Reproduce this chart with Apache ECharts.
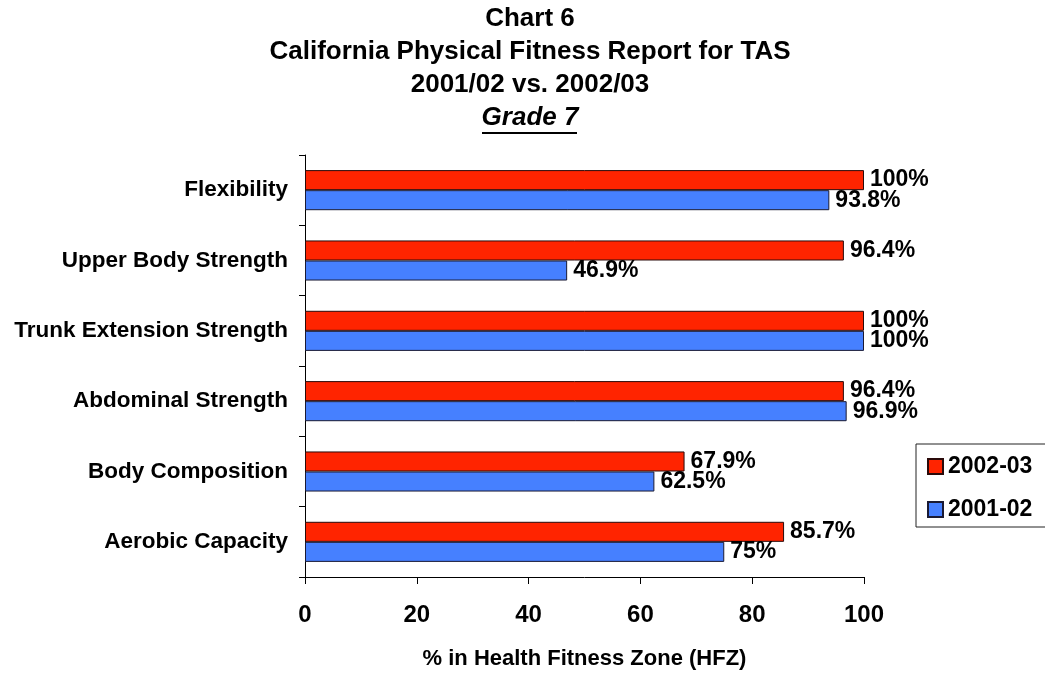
<!DOCTYPE html>
<html>
<head>
<meta charset="utf-8">
<script src="https://cdn.jsdelivr.net/npm/echarts@6/dist/echarts.min.js"></script>
<style>
  html, body { margin: 0; padding: 0; background: #fff; }
  #chart { width: 1045px; height: 673px; }
</style>
</head>
<body>
<div id="chart"></div>
<script>
// bottom to top, as the category axis draws them
const categories = [
  'Aerobic Capacity',
  'Body Composition',
  'Abdominal Strength',
  'Trunk Extension Strength',
  'Upper Body Strength',
  'Flexibility',
]
const values0203 = [85.7, 67.9, 96.4, 100, 96.4, 100]
const values0102 = [75, 62.5, 96.9, 100, 46.9, 93.8]
const xTicks = [0, 20, 40, 60, 80, 100]

const font = '"Liberation Sans", Arial, sans-serif'
const chart = echarts.init(document.getElementById('chart'))

const labelStyle = {
  show: true,
  position: 'right',
  distance: 6,
  color: '#000',
  fontFamily: font,
  fontWeight: 'bold',
  fontSize: 23,
  formatter: (p) => `${p.value}%`,
}

chart.setOption({
  backgroundColor: '#fff',
  animation: false,
  title: [
    {
      text: 'Chart 6\nCalifornia Physical Fitness Report for TAS\n2001/02 vs. 2002/03',
      left: 530,
      textAlign: 'center',
      top: 2,
      padding: 0,
      textStyle: { fontFamily: font, fontWeight: 'bold', fontSize: 26, lineHeight: 33, color: '#000' },
    },
    {
      text: 'Grade 7',
      left: 530,
      textAlign: 'center',
      top: 101,
      padding: 0,
      textStyle: { fontFamily: font, fontWeight: 'bold', fontStyle: 'italic', fontSize: 26, lineHeight: 33, color: '#000' },
    },
  ],
  graphic: [
    { type: 'rect', left: 482, top: 132, shape: { width: 95, height: 2 }, style: { fill: '#000' } },
  ],
  legend: {
    orient: 'vertical',
    left: 916,
    top: 444,
    data: ['2002-03', '2001-02'],
    icon: 'rect',
    itemWidth: 15,
    itemHeight: 15,
    itemGap: 20,
    padding: [11, 40, 6, 11],
    borderColor: '#222',
    borderWidth: 1,
    textStyle: { fontFamily: font, fontWeight: 'bold', fontSize: 23, color: '#000' },
  },
  grid: { left: 305, right: 181, top: 155, bottom: 96, outerBoundsMode: 'none' },
  xAxis: {
    type: 'value',
    min: 0,
    max: 100,
    interval: 20,
    name: '% in Health Fitness Zone (HFZ)',
    nameLocation: 'middle',
    nameGap: 71,
    nameTextStyle: { fontFamily: font, fontWeight: 'bold', fontSize: 22, color: '#000', verticalAlign: 'top' },
    axisLine: { show: true, lineStyle: { color: '#000', width: 1 } },
    axisTick: { show: true, length: 7, lineStyle: { color: '#000' } },
    splitLine: { show: false },
    axisLabel: {
      margin: 26,
      color: '#000',
      fontFamily: font,
      fontWeight: 'bold',
      fontSize: 24,
      formatter: (v) => (xTicks.includes(v) ? String(v) : ''),
    },
  },
  yAxis: {
    type: 'category',
    data: categories,
    axisLine: { show: true, lineStyle: { color: '#000', width: 1 } },
    axisTick: { show: true, length: 6, lineStyle: { color: '#000' } },
    axisLabel: { margin: 17, color: '#000', fontFamily: font, fontWeight: 'bold', fontSize: 22.5 },
  },
  series: [
    {
      name: '2002-03',
      type: 'bar',
      data: values0203,
      barGap: '0%',
      barCategoryGap: '43%',
      itemStyle: { color: '#ff2400', borderColor: '#2a0a0a', borderWidth: 1 },
      label: labelStyle,
    },
    {
      name: '2001-02',
      type: 'bar',
      data: values0102,
      barGap: '0%',
      barCategoryGap: '43%',
      itemStyle: { color: '#4680ff', borderColor: '#1a1a33', borderWidth: 1 },
      label: labelStyle,
    },
  ],
})

window.addEventListener('resize', () => chart.resize())
</script>
</body>
</html>
